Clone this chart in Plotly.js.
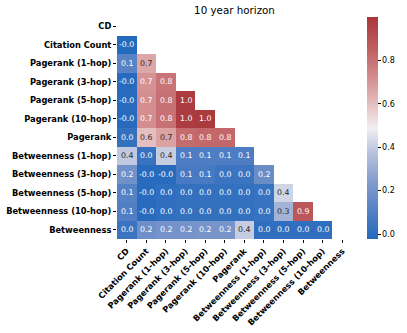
<!DOCTYPE html>
<html>
<head>
<meta charset="utf-8">
<script src="https://cdn.plot.ly/plotly-3.0.1.min.js"></script>
<style>
  html, body { margin: 0; padding: 0; background: #fff; }
  #chart { width: 407px; height: 333px; }
</style>
</head>
<body>
<div id="chart"></div>
<script>
// Feature names (rows and columns of the correlation matrix)
const labels = [
  "CD",
  "Citation Count",
  "Pagerank (1-hop)",
  "Pagerank (3-hop)",
  "Pagerank (5-hop)",
  "Pagerank (10-hop)",
  "Pagerank",
  "Betweenness (1-hop)",
  "Betweenness (3-hop)",
  "Betweenness (5-hop)",
  "Betweenness (10-hop)",
  "Betweenness",
];

// Lower triangle, one row per feature (diagonal and upper part are masked)
const rowCD = [];
const rowCitation = [-0.02];
const rowPr1 = [0.12, 0.66];
const rowPr3 = [-0.01, 0.71, 0.79];
const rowPr5 = [-0.01, 0.72, 0.8, 0.98];
const rowPr10 = [-0.01, 0.72, 0.8, 0.98, 0.99];
const rowPr = [0.02, 0.6, 0.67, 0.82, 0.83, 0.83];
const rowBt1 = [0.39, 0.03, 0.4, 0.09, 0.09, 0.09, 0.09];
const rowBt3 = [0.19, -0.01, -0.01, 0.07, 0.07, 0.04, 0.04, 0.17];
const rowBt5 = [0.11, -0.01, 0.01, 0.02, 0.02, 0.02, 0.02, 0.03, 0.42];
const rowBt10 = [0.1, -0.01, 0.01, 0.02, 0.02, 0.02, 0.02, 0.03, 0.32, 0.88];
const rowBt = [0.04, 0.18, 0.2, 0.2, 0.21, 0.21, 0.4, 0.01, 0.01, 0.01, 0.01];

const rows = [rowCD, rowCitation, rowPr1, rowPr3, rowPr5, rowPr10, rowPr,
  rowBt1, rowBt3, rowBt5, rowBt10, rowBt];

const zmin = -0.023;
const zmax = 1.0;
const cbTicks = [0, 0.2, 0.4, 0.6, 0.8];

// approximation of seaborn "vlag"
const vlag = [
  [0.0, [35, 105, 189]],
  [0.125, [84, 128, 196]],
  [0.25, [128, 154, 204]],
  [0.375, [178, 190, 219]],
  [0.5, [242, 239, 240]],
  [0.625, [227, 183, 184]],
  [0.75, [208, 132, 134]],
  [0.875, [188, 89, 92]],
  [1.0, [169, 55, 59]],
];

function colorAt(v) {
  const t = Math.min(1, Math.max(0, (v - zmin) / (zmax - zmin)));
  for (let i = 1; i < vlag.length; i++) {
    if (t <= vlag[i][0]) {
      const [t0, c0] = vlag[i - 1];
      const [t1, c1] = vlag[i];
      const f = (t - t0) / (t1 - t0);
      return c0.map((c, k) => c + (c1[k] - c) * f);
    }
  }
  return vlag[vlag.length - 1][1];
}

function luminance(rgb) {
  const lin = rgb.map((c) => {
    c = c / 255;
    return c <= 0.03928 ? c / 12.92 : Math.pow((c + 0.055) / 1.055, 2.4);
  });
  return 0.2126 * lin[0] + 0.7152 * lin[1] + 0.0722 * lin[2];
}

const z = labels.map((_, i) =>
  labels.map((_, j) => (j < rows[i].length ? rows[i][j] : null)),
);

const annotations = [];
rows.forEach((row, i) => {
  row.forEach((v, j) => {
    annotations.push({
      x: labels[j],
      y: labels[i],
      xref: "x",
      yref: "y",
      text: v.toFixed(1),
      showarrow: false,
      font: {
        family: "DejaVu Sans",
        size: 7.8,
        color: luminance(colorAt(v)) > 0.408 ? "#262626" : "#ffffff",
      },
    });
  });
});

const trace = {
  type: "heatmap",
  x: labels,
  y: labels,
  z: z,
  zmin: zmin,
  zmax: zmax,
  colorscale: vlag.map(([t, c]) => [t, `rgb(${c.join(",")})`]),
  hoverongaps: false,
  colorbar: {
    x: 1.063,
    xanchor: "left",
    y: 0.5,
    yanchor: "middle",
    len: 1,
    lenmode: "fraction",
    thickness: 11,
    outlinewidth: 0,
    tickvals: cbTicks,
    ticktext: cbTicks.map((t) => t.toFixed(1)),
    ticks: "outside",
    ticklen: 3,
    tickcolor: "#000",
    tickfont: { family: "DejaVu Sans", size: 8, color: "#000" },
    xpad: 0,
    ypad: 0,
  },
};

const tickAxis = {
  type: "category",
  showgrid: false,
  zeroline: false,
  showline: false,
  ticks: "outside",
  ticklen: 3,
  tickcolor: "#000",
  tickfont: { family: "DejaVu Sans", size: 8.3, color: "#000", weight: "bold" },
};

const layout = {
  width: 407,
  height: 333,
  paper_bgcolor: "#fff",
  plot_bgcolor: "#fff",
  margin: { l: 117, r: 52, t: 17, b: 94, pad: 0 },
  title: {
    text: "10 year horizon",
    font: { family: "DejaVu Sans", size: 10.3, color: "#000" },
    x: 0.5,
    xref: "paper",
    y: 1,
    yref: "paper",
    yanchor: "bottom",
    pad: { b: 3 },
  },
  xaxis: { ...tickAxis, tickangle: -45 },
  yaxis: { ...tickAxis, autorange: "reversed" },
  annotations: annotations,
  showlegend: false,
};

Plotly.newPlot(document.getElementById("chart"), [trace], layout, {
  displayModeBar: false,
  staticPlot: true,
});
</script>
</body>
</html>
